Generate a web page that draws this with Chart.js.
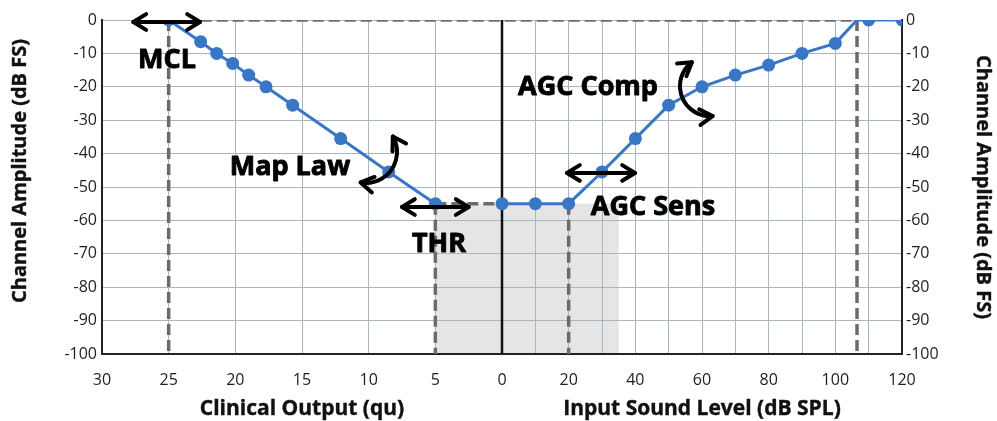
<!DOCTYPE html>
<html>
<head>
<meta charset="utf-8">
<script src="https://cdn.jsdelivr.net/npm/chart.js@4.4.1/dist/chart.umd.min.js"></script>
<style>
  html, body { margin: 0; padding: 0; background: #fff; }
  canvas { display: block; }
</style>
</head>
<body>
<canvas id="growth-chart" width="997" height="421"></canvas>
<script>
/* Channel amplitude vs clinical output (left half) and input level (right half) */

// left half: clinical output (qu) -> channel amplitude (dB FS)
var clinicalQu = [25, 22.6, 21.4, 20.2, 19.0, 17.7, 15.7, 12.1, 8.5, 5];
var clinicalAmp = [0, -6.5, -10, -13, -16.5, -20, -25.5, -35.5, -45.5, -55];

// right half: input sound level (dB SPL) -> channel amplitude (dB FS)
var inputDb = [0, 10, 20, 30, 40, 50, 60, 70, 80, 90, 100, 106.5, 110, 120];
var inputAmp = [-55, -55, -55, -45.5, -35.5, -25.5, -20, -16.5, -13.5, -10, -7, 0, 0, 0];
var inputMarker = [1, 1, 1, 1, 1, 1, 1, 1, 1, 1, 1, 0, 1, 1];

// tick labels
var quTicks = [30, 25, 20, 15, 10, 5, 0];
var dbTicks = [0, 20, 40, 60, 80, 100, 120];

// reference levels
var MCL_QU = 25, THR_QU = 5, THR_AMP = -55, SENS_DB = 20, SAT_DB = 106.5, SHADE_DB = 35;
var AMP_MIN = -100, AMP_MAX = 0;
var QU_SCALE = 4; // one qu takes the width of 4 dB on the shared axis

var BLUE = '#3a76c6';
var DASH_GRAY = '#6b6b6b';
var GRID = '#a9b5bf';
var TEXT = '#1e1e1e';

// annotations, in axis units
var callouts = [
  { text: 'MCL', x: -100.5, y: -14.4 },
  { text: 'Map Law', x: -63.6, y: -46.4 },
  { text: 'THR', x: -18.9, y: -69.5 },
  { text: 'AGC Sens', x: 45.3, y: -58.4 },
  { text: 'AGC Comp', x: 25.8, y: -22.5 }
];
var sliders = [
  { x: -100.6, y: -0.6, half: 10 },
  { x: -20, y: -56, half: 10 },
  { x: 29.7, y: -45.8, half: 10.2 }
];
var turns = [
  { x: -40.8, y: -39.5, r: 31, from: -30, to: 100 },
  { x: 62.4, y: -19.8, r: 30, from: 85, to: 233 }
];

function refLine(points, dashed) {
  return {
    data: points,
    borderColor: dashed ? DASH_GRAY : '#111',
    borderWidth: dashed ? 3.5 : 2.5,
    borderDash: dashed ? [11, 5] : [],
    pointRadius: 0,
    fill: false
  };
}

function arrowHead(c, tx, ty, dx, dy) {
  var len = 15, ang = 0.55;
  var bx = -dx, by = -dy;
  c.beginPath();
  c.moveTo(tx + len * (bx * Math.cos(ang) - by * Math.sin(ang)), ty + len * (bx * Math.sin(ang) + by * Math.cos(ang)));
  c.lineTo(tx, ty);
  c.lineTo(tx + len * (bx * Math.cos(-ang) - by * Math.sin(-ang)), ty + len * (bx * Math.sin(-ang) + by * Math.cos(-ang)));
  c.stroke();
}

function boldText(c, text, x, y) {
  c.fillText(text, x, y);
  c.strokeText(text, x, y);
}

var overlay = {
  id: 'overlay',
  beforeDraw: function(chart) {
    var c = chart.ctx, xs = chart.scales.x, ys = chart.scales.y;
    var x0 = xs.getPixelForValue(-THR_QU * QU_SCALE), x1 = xs.getPixelForValue(SHADE_DB);
    var y0 = ys.getPixelForValue(THR_AMP), y1 = ys.getPixelForValue(AMP_MIN);
    c.save();
    c.fillStyle = '#e5e5e5';
    c.fillRect(x0, y0, x1 - x0, y1 - y0);
    c.restore();
  },
  afterDatasetsDraw: function(chart) {
    var c = chart.ctx, xs = chart.scales.x, ys = chart.scales.y;
    c.save();
    c.strokeStyle = '#000';
    c.lineWidth = 4;
    c.lineCap = 'round';
    c.lineJoin = 'round';
    sliders.forEach(function(s) {
      var xa = xs.getPixelForValue(s.x - s.half), xb = xs.getPixelForValue(s.x + s.half);
      var y = ys.getPixelForValue(s.y);
      c.beginPath(); c.moveTo(xa, y); c.lineTo(xb, y); c.stroke();
      arrowHead(c, xa, y, -1, 0);
      arrowHead(c, xb, y, 1, 0);
    });
    turns.forEach(function(t) {
      var cx = xs.getPixelForValue(t.x), cy = ys.getPixelForValue(t.y);
      var a0 = t.from * Math.PI / 180, a1 = t.to * Math.PI / 180;
      c.beginPath(); c.arc(cx, cy, t.r, a0, a1, false); c.stroke();
      arrowHead(c, cx + t.r * Math.cos(a0), cy + t.r * Math.sin(a0), Math.sin(a0), -Math.cos(a0));
      arrowHead(c, cx + t.r * Math.cos(a1), cy + t.r * Math.sin(a1), -Math.sin(a1), Math.cos(a1));
    });
    c.fillStyle = '#000';
    c.lineWidth = 0.9;
    c.font = 'bold 27px "Open Sans"';
    c.textAlign = 'center';
    c.textBaseline = 'alphabetic';
    callouts.forEach(function(l) {
      boldText(c, l.text, xs.getPixelForValue(l.x), ys.getPixelForValue(l.y));
    });
    c.restore();
  },
  afterDraw: function(chart) {
    var c = chart.ctx;
    c.save();
    c.fillStyle = '#111';
    c.strokeStyle = '#111';
    c.lineWidth = 0.4;
    c.font = 'bold 21px "Open Sans"';
    c.textAlign = 'center';
    c.textBaseline = 'alphabetic';
    boldText(c, 'Clinical Output (qu)', 302, 415);
    boldText(c, 'Input Sound Level (dB SPL)', 702, 415);
    c.font = 'bold 20px "Open Sans"';
    c.textBaseline = 'middle';
    c.save();
    c.translate(20, 171);
    c.rotate(-Math.PI / 2);
    boldText(c, 'Channel Amplitude (dB FS)', 0, 0);
    c.restore();
    c.translate(983, 187);
    c.rotate(Math.PI / 2);
    boldText(c, 'Channel Amplitude (dB FS)', 0, 0);
    c.restore();
  }
};

var leftPoints = clinicalQu.map(function(q, i) { return { x: -q * QU_SCALE, y: clinicalAmp[i] }; });
var rightPoints = inputDb.map(function(d, i) { return { x: d, y: inputAmp[i] }; });
var mclX = -MCL_QU * QU_SCALE, thrX = -THR_QU * QU_SCALE;

new Chart(document.getElementById('growth-chart').getContext('2d'), {
  type: 'line',
  data: {
    datasets: [
      {
        data: leftPoints, borderColor: BLUE, borderWidth: 3,
        pointRadius: 6.5, pointBackgroundColor: BLUE, pointBorderColor: BLUE, pointBorderWidth: 0
      },
      {
        data: rightPoints, borderColor: BLUE, borderWidth: 3,
        pointRadius: function(ctx) { return inputMarker[ctx.dataIndex] ? 6.5 : 0; },
        pointBackgroundColor: BLUE, pointBorderColor: BLUE, pointBorderWidth: 0
      },
      refLine([{ x: 0, y: AMP_MAX }, { x: 0, y: AMP_MIN }], false),
      refLine([{ x: mclX, y: AMP_MAX }, { x: SAT_DB, y: AMP_MAX }], true),
      refLine([{ x: mclX, y: AMP_MAX }, { x: mclX, y: AMP_MIN }], true),
      refLine([{ x: thrX, y: THR_AMP }, { x: 0, y: THR_AMP }], true),
      refLine([{ x: thrX, y: THR_AMP }, { x: thrX, y: AMP_MIN }], true),
      refLine([{ x: SENS_DB, y: THR_AMP }, { x: SENS_DB, y: AMP_MIN }], true),
      refLine([{ x: SAT_DB, y: AMP_MAX }, { x: SAT_DB, y: AMP_MIN }], true)
    ]
  },
  options: {
    responsive: false,
    animation: false,
    layout: { padding: { top: 20 } },
    plugins: { legend: { display: false }, tooltip: { enabled: false } },
    scales: {
      x: {
        type: 'linear', min: -30 * QU_SCALE, max: 120,
        afterFit: function(s) { s.height = 67; },
        grid: { color: GRID, lineWidth: 1, drawTicks: false },
        border: { color: '#222', width: 2 },
        ticks: {
          stepSize: 10, autoSkip: false, maxRotation: 0, padding: 17,
          color: TEXT, font: { family: 'Open Sans', size: 16 },
          callback: function(v) {
            if (v < 0) {
              var q = -v / QU_SCALE;
              return quTicks.indexOf(q) >= 0 ? String(q) : null;
            }
            return dbTicks.indexOf(v) >= 0 ? String(v) : '';
          }
        }
      },
      y: {
        position: 'left', min: AMP_MIN, max: AMP_MAX,
        afterFit: function(s) { s.width = 102; },
        grid: { color: GRID, lineWidth: 1, drawTicks: false },
        border: { color: '#222', width: 2 },
        ticks: { stepSize: 10, padding: 5, color: TEXT, font: { family: 'Open Sans', size: 16 } }
      },
      y2: {
        position: 'right', min: AMP_MIN, max: AMP_MAX,
        afterFit: function(s) { s.width = 95; },
        grid: { drawOnChartArea: false, drawTicks: false },
        border: { color: '#222', width: 2 },
        ticks: { stepSize: 10, padding: 4, color: TEXT, font: { family: 'Open Sans', size: 16 } }
      }
    }
  },
  plugins: [overlay]
});
</script>
</body>
</html>
